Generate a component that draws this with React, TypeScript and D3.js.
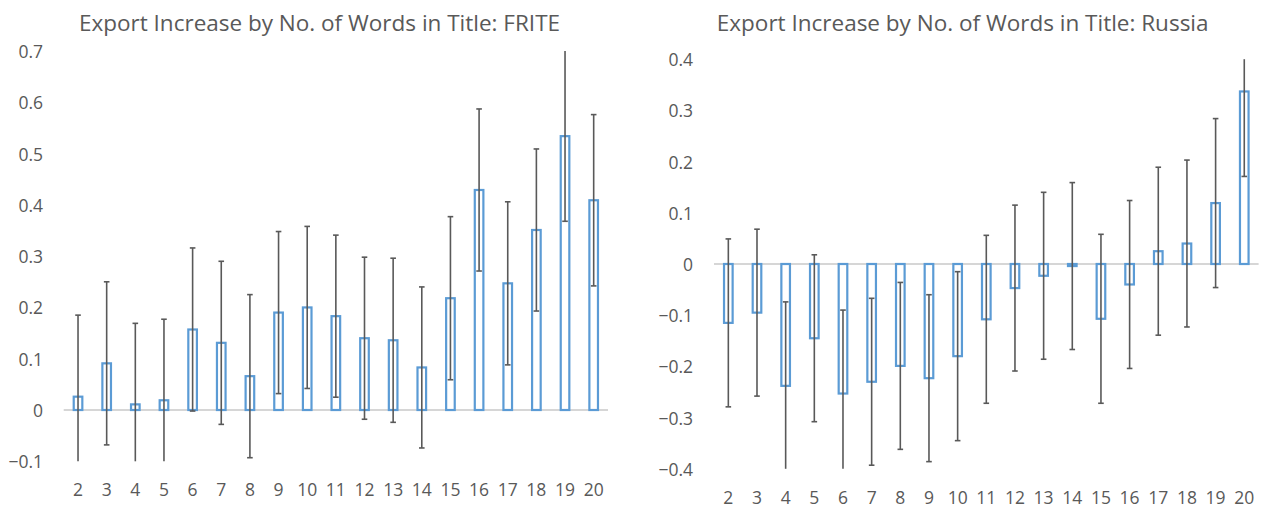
import React from "react";
import * as d3 from "d3";

const categories = ["2","3","4","5","6","7","8","9","10","11","12","13","14","15","16","17","18","19","20"];

const friteValues = [0.026,0.091,0.011,0.019,0.157,0.131,0.066,0.19,0.2,0.183,0.14,0.136,0.083,0.218,0.429,0.247,0.351,0.534,0.409];
const friteErr = [0.159,0.159,0.158,0.158,0.159,0.159,0.159,0.158,0.158,0.158,0.158,0.16,0.157,0.159,0.158,0.159,0.158,0.166,0.167];
const friteTicks = [-0.1,0,0.1,0.2,0.3,0.4,0.5,0.6,0.7];

const russiaValues = [-0.115,-0.095,-0.238,-0.145,-0.253,-0.23,-0.199,-0.223,-0.18,-0.108,-0.047,-0.023,-0.004,-0.107,-0.04,0.025,0.04,0.119,0.337];
const russiaErr = [0.164,0.163,0.164,0.163,0.163,0.163,0.163,0.163,0.165,0.164,0.162,0.163,0.163,0.165,0.164,0.164,0.163,0.165,0.166];
const russiaTicks = [-0.4,-0.3,-0.2,-0.1,0,0.1,0.2,0.3,0.4];

const FONT = "'Open Sans', 'DejaVu Sans', sans-serif";
const TEXT = "#595959";

type PanelProps = {
  title: string;
  titleX: number;
  values: number[];
  errs: number[];
  ticks: number[];
  domain: [number, number];
  yRange: [number, number];
  xRange: [number, number];
  tickX: number;
  xLabelY: number;
};

function Panel(p: PanelProps) {
  const y = d3.scaleLinear().domain(p.domain).range(p.yRange);
  const x = d3.scaleBand<string>().domain(categories).range(p.xRange).paddingInner(0.7).paddingOuter(0.35);
  const bw = x.bandwidth();
  const y0 = y(0);
  const cap = 2.8;
  const [lo, hi] = p.domain;
  return (
    <g>
      <text x={p.titleX} y={22} textAnchor="middle" dominantBaseline="central" fontSize={22.5} fill={TEXT} fontFamily={FONT}>{p.title}</text>
      {p.ticks.map((t) => (
        <text key={t} x={p.tickX} y={y(t)} textAnchor="end" dominantBaseline="central" fontSize={17.5} fill={TEXT} fontFamily={FONT}>{d3.format("")(t)}</text>
      ))}
      <line x1={p.xRange[0]} x2={p.xRange[1]} y1={y0} y2={y0} stroke="#C8C8C8" strokeWidth={1.5} />
      {categories.map((c, i) => {
        const v = p.values[i];
        const bx = x(c)!;
        return (
          <rect key={c} x={bx} y={Math.min(y(v), y0)} width={bw} height={Math.max(Math.abs(y(v) - y0), 0.5)} fill="#FFFFFF" stroke="#5B9BD5" strokeWidth={2.2} />
        );
      })}
      {categories.map((c, i) => {
        const v = p.values[i];
        const e = p.errs[i];
        const cx = x(c)! + bw / 2;
        const top = v + e;
        const bot = v - e;
        const topC = Math.min(top, hi);
        const botC = Math.max(bot, lo);
        return (
          <g key={c} stroke="#595959" strokeWidth={1.6}>
            <line x1={cx} x2={cx} y1={y(topC)} y2={y(botC)} />
            {top <= hi && <line x1={cx - cap} x2={cx + cap} y1={y(top)} y2={y(top)} />}
            {bot >= lo && <line x1={cx - cap} x2={cx + cap} y1={y(bot)} y2={y(bot)} />}
          </g>
        );
      })}
      {categories.map((c) => (
        <text key={c} x={x(c)! + bw / 2} y={p.xLabelY} textAnchor="middle" dominantBaseline="central" fontSize={17.5} fill={TEXT} fontFamily={FONT}>{c}</text>
      ))}
    </g>
  );
}

export default function App() {
  return (
    <svg width={1268} height={508} style={{ position: "absolute", left: 0, top: 0, background: "#fff" }}>
      <rect width={1268} height={508} fill="#fff" />
      <Panel
        title="Export Increase by No. of Words in Title: FRITE"
        titleX={319.5}
        values={friteValues}
        errs={friteErr}
        ticks={friteTicks}
        domain={[-0.1, 0.7]}
        yRange={[461.3, 51]}
        xRange={[63.7, 608]}
        tickX={43}
        xLabelY={488.5}
      />
      <Panel
        title="Export Increase by No. of Words in Title: Russia"
        titleX={962.7}
        values={russiaValues}
        errs={russiaErr}
        ticks={russiaTicks}
        domain={[-0.4, 0.4]}
        yRange={[468.8, 59.2]}
        xRange={[714, 1258.6]}
        tickX={693}
        xLabelY={497}
      />
    </svg>
  );
}
